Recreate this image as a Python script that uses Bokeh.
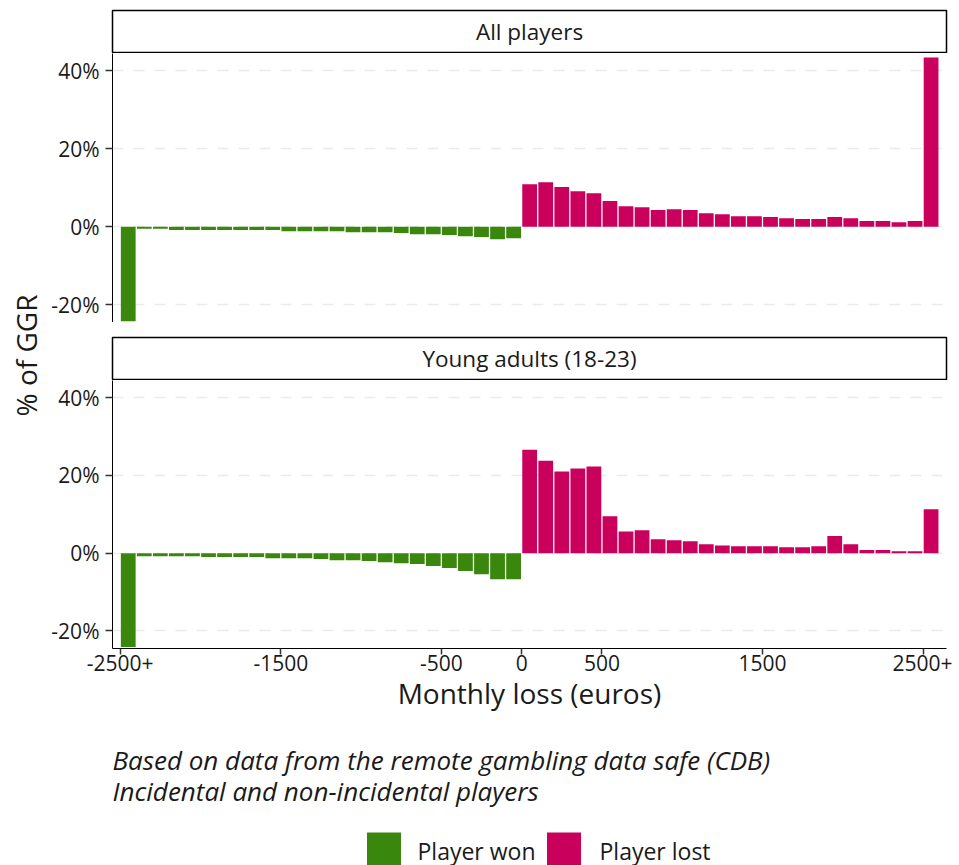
import math
from bokeh.plotting import figure
from bokeh.layouts import column, row
from bokeh.models import Range1d, FixedTicker, PrintfTickFormatter, ColumnDataSource
from bokeh.core.properties import value
from bokeh.embed import file_html
from bokeh.resources import INLINE

# ---------------- data ----------------
won_bins = [-2500, -2400, -2300, -2200, -2100, -2000, -1900, -1800, -1700, -1600,
            -1500, -1400, -1300, -1200, -1100, -1000, -900, -800, -700, -600,
            -500, -400, -300, -200, -100]
lost_bins = [0, 100, 200, 300, 400, 500, 600, 700, 800, 900,
             1000, 1100, 1200, 1300, 1400, 1500, 1600, 1700, 1800, 1900,
             2000, 2100, 2200, 2300, 2400, 2500]

all_won = [-24.2, -0.5, -0.5, -0.8, -0.8, -0.8, -0.8, -0.8, -0.8, -0.8,
           -1.1, -1.1, -1.1, -1.1, -1.4, -1.4, -1.4, -1.6, -1.9, -1.9,
           -2.1, -2.4, -2.6, -3.2, -2.9]
all_lost = [10.9, 11.4, 10.2, 9.1, 8.6, 6.6, 5.3, 5.0, 4.3, 4.5,
            4.3, 3.5, 3.2, 2.7, 2.7, 2.5, 2.2, 2.0, 2.0, 2.5,
            2.2, 1.5, 1.5, 1.2, 1.5, 43.4]

young_won = [-24.1, -0.8, -0.8, -0.8, -0.8, -1.0, -1.0, -1.0, -1.0, -1.3,
             -1.3, -1.3, -1.5, -1.8, -1.8, -2.0, -2.3, -2.6, -2.8, -3.3,
             -3.8, -4.6, -5.4, -6.7, -6.7]
young_lost = [26.6, 23.8, 21.0, 21.8, 22.3, 9.5, 5.6, 5.9, 3.6, 3.3,
              3.1, 2.3, 2.0, 1.8, 1.8, 1.8, 1.5, 1.5, 1.8, 4.4,
              2.3, 0.8, 0.8, 0.5, 0.5, 11.3]

panel_titles = ["All players", "Young adults (18-23)"]
y_ticks = [-20, 0, 20, 40]
x_ticks = [-2500, -1500, -500, 0, 500, 1500, 2500]
x_tick_labels = {-2500: "-2500+", -1500: "-1500", -500: "-500", 0: "0",
                 500: "500", 1500: "1500", 2500: "2500+"}
legend_labels = ["Player won", "Player lost"]
caption_lines = ["Based on data from the remote gambling data safe (CDB)",
                 "Incidental and non-incidental players"]

GREEN = "#39870C"
PINK = "#CA005D"
FONT = "Open Sans"
TXT = "#1a1a1a"
BIN_W = 100

FW = 834
ML, MR = 63, 6
LW = 48  # width of the y-title column


def no_grid(f):
    for g in f.grid:
        g.visible = False
    f.outline_line_color = None


def make_strip(title, top_border):
    s = figure(frame_width=FW, frame_height=42, x_range=Range1d(0, 1), y_range=Range1d(0, 1),
               min_border_left=ML, min_border_right=MR, min_border_top=top_border,
               min_border_bottom=1, output_backend="svg", toolbar_location=None,
               x_axis_location=None, y_axis_location=None)
    no_grid(s)
    s.outline_line_color = "black"
    s.outline_line_width = 1.5
    s.text(x=[0.5], y=[0.5], text=[title], text_align="center", text_baseline="middle",
           text_font=value(FONT), text_font_size="22.5px", text_color=TXT)
    return s


def make_panel(won, lost, show_x, frame_h):
    p = figure(frame_width=FW, frame_height=frame_h,
               x_range=Range1d(-2548, 2646), y_range=Range1d(-24.5, 44.4),
               min_border_left=ML, min_border_right=MR, min_border_top=0,
               min_border_bottom=64 if show_x else 0,
               output_backend="svg", toolbar_location=None,
               x_axis_location="below" if show_x else None)
    src_w = ColumnDataSource(dict(x=[b + BIN_W / 2 for b in won_bins], v=won))
    src_l = ColumnDataSource(dict(x=[b + BIN_W / 2 for b in lost_bins], v=lost))
    p.vbar(x="x", width=92, top=0, bottom="v", source=src_w, fill_color=GREEN, line_color=None)
    p.vbar(x="x", width=92, top="v", bottom=0, source=src_l, fill_color=PINK, line_color=None)

    ya = p.yaxis[0]
    ya.ticker = FixedTicker(ticks=y_ticks)
    ya.formatter = PrintfTickFormatter(format="%d%%")
    ya.major_label_text_font = FONT
    ya.major_label_text_font_size = "21px"
    ya.major_label_text_color = TXT
    ya.axis_line_color = "black"
    ya.axis_line_width = 1
    ya.major_tick_out = 7
    ya.major_tick_in = 0
    ya.major_tick_line_color = "#333333"
    ya.major_tick_line_width = 1.5
    ya.minor_tick_line_color = None
    ya.major_label_standoff = 6

    p.ygrid.grid_line_color = "#ebebeb"
    p.ygrid.grid_line_width = 1.5
    p.ygrid.grid_line_dash = "11 10"
    p.xgrid.grid_line_color = None
    p.outline_line_color = None

    if show_x:
        xa = p.xaxis[0]
        xa.ticker = FixedTicker(ticks=x_ticks)
        xa.major_label_overrides = x_tick_labels
        xa.major_label_text_font = FONT
        xa.major_label_text_font_size = "21px"
        xa.major_label_text_color = TXT
        xa.axis_line_color = "black"
        xa.axis_line_width = 1
        xa.major_tick_out = 6
        xa.major_tick_in = 0
        xa.major_tick_line_color = "#333333"
        xa.major_tick_line_width = 1.5
        xa.minor_tick_line_color = None
        xa.major_label_standoff = 0
        xa.axis_label = "Monthly loss (euros)"
        xa.axis_label_text_font = FONT
        xa.axis_label_text_font_size = "28px"
        xa.axis_label_text_font_style = "normal"
        xa.axis_label_text_color = TXT
        xa.axis_label_standoff = 0
    return p


s1 = make_strip(panel_titles[0], 10)
p1 = make_panel(all_won, all_lost, False, 269)
s2 = make_strip(panel_titles[1], 15)
p2 = make_panel(young_won, young_lost, True, 268)

COL_H = 53 + 269 + 59 + 268 + 64

ylab = figure(width=LW, height=COL_H, x_range=Range1d(0, LW), y_range=Range1d(COL_H, 0),
              min_border=0, output_backend="svg", toolbar_location=None,
              x_axis_location=None, y_axis_location=None)
no_grid(ylab)
ylab.text(x=[25], y=[355], text=["% of GGR"], angle=math.pi / 2, text_align="center",
          text_baseline="middle", text_font=value(FONT), text_font_size="28px", text_color=TXT)

TOTAL_W = LW + ML + FW + MR

cap = figure(width=TOTAL_W, height=95, x_range=Range1d(0, TOTAL_W), y_range=Range1d(95, 0),
             min_border=0, output_backend="svg", toolbar_location=None,
             x_axis_location=None, y_axis_location=None)
no_grid(cap)
cap.text(x=[112, 112], y=[45, 76], text=caption_lines, text_align="left", text_baseline="middle",
         text_font=value(FONT), text_font_size="26px", text_font_style="italic", text_color=TXT)

leg = figure(width=TOTAL_W, height=57, x_range=Range1d(0, TOTAL_W), y_range=Range1d(57, 0),
             min_border=0, output_backend="svg", toolbar_location=None,
             x_axis_location=None, y_axis_location=None)
no_grid(leg)
leg.rect(x=[383.5, 563.5], y=[40, 40], width=34, height=34, fill_color=[GREEN, PINK], line_color=None)
leg.text(x=[417, 599], y=[41, 41], text=legend_labels, text_align="left", text_baseline="middle",
         text_font=value(FONT), text_font_size="23px", text_color=TXT)

layout = column(row(ylab, column(s1, p1, s2, p2)), cap, leg)

open("out.html", "w").write(file_html(layout, INLINE))
